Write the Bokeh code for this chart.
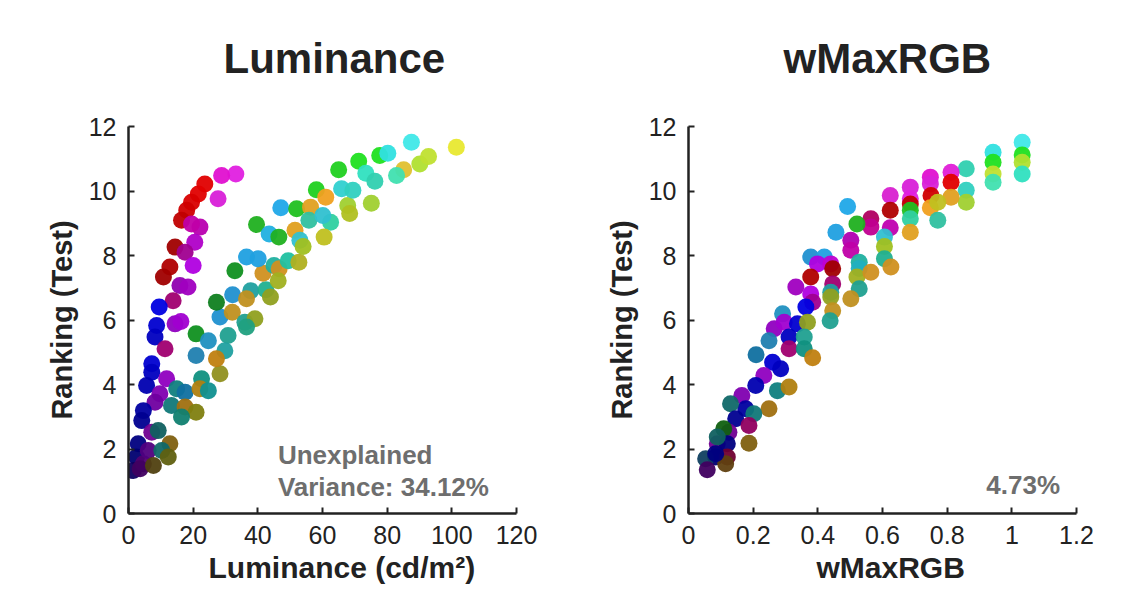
from bokeh.plotting import figure
from bokeh.layouts import row
from bokeh.models import Range1d, FixedTicker, Label, ColumnDataSource, Title
from bokeh.embed import file_html
from bokeh.resources import INLINE

# ---------------- Luminance panel data ----------------
lum_x = [33.2, 28.8, 27.7, 23.6, 21.6, 19.5, 18.0, 16.4, 22.1, 19.5, 20.5, 14.4, 17.5, 12.8, 10.8, 20.0,
         15.9, 18.4, 13.8, 9.5, 8.7, 8.2, 14.4, 16.2, 11.3, 7.2, 7.2, 5.6, 11.8, 9.7, 8.2, 4.6, 4.1, 7.2,
         3.0, 2.5, 1.5, 4.6, 3.6, 6.1,
         9.2, 12.8, 10.3, 12.3, 7.7, 14.9, 17.5, 13.3, 17.5, 20.9, 16.4, 22.6, 22.1, 24.7, 28.3, 20.9,
         24.7, 30.8, 29.8, 20.9, 27.2, 28.3, 32.1, 36.0, 39.1, 36.5, 27.2, 32.2, 37.8, 36.5, 42.5, 43.9,
         32.9, 41.6, 45.0, 46.6, 46.3, 49.4, 52.7, 36.5, 40.1, 39.6, 43.5, 46.5, 51.5, 53.0, 54.0, 47.1,
         52.0, 56.3, 55.8, 62.5, 60.1, 60.5, 58.1, 61.0, 67.8, 68.4, 75.1, 65.9, 69.4, 65.0, 71.2, 73.4,
         76.2, 85.1, 82.9, 77.7, 80.2, 90.1, 92.8, 87.5, 101.4]
lum_y = [10.53, 10.48, 9.76, 10.22, 9.91, 9.65, 9.40, 9.09, 8.88, 8.98, 8.41, 8.26, 8.10, 7.64, 7.33, 7.69,
         7.07, 7.02, 6.60, 6.40, 5.83, 5.47, 5.88, 5.95, 5.11, 4.64, 4.38, 3.97, 4.18, 3.71, 3.45, 3.19,
         2.88, 2.52, 2.16, 1.75, 1.33, 1.54, 1.39, 1.95,
         2.57, 2.16, 1.95, 1.75, 1.49, 3.87, 3.76, 3.35, 3.30, 3.14, 2.99, 4.18, 3.87, 3.81, 4.33, 5.57,
         5.36, 5.52, 5.05, 4.90, 4.80, 6.09, 6.24, 5.93, 6.04, 5.78, 6.55, 6.78, 6.91, 6.66, 6.94, 6.71,
         7.53, 7.45, 7.69, 7.59, 7.22, 7.84, 7.79, 7.95, 7.90, 8.96, 8.67, 8.57, 8.78, 8.47, 8.28, 9.48,
         9.45, 9.50, 9.09, 9.03, 9.24, 8.57, 10.04, 9.81, 9.55, 9.30, 9.62, 10.07, 10.02, 10.66, 10.92, 10.55,
         10.30, 10.66, 10.48, 11.10, 11.17, 10.84, 11.07, 11.51, 11.36]
lum_c = ["#e020e0", "#e010d0", "#d820d8", "#e00000", "#e00000", "#d80000", "#d00000", "#c00000", "#b800b0",
         "#c000a8", "#b000c8", "#a00000", "#a00090", "#b00000", "#a00000", "#b000e0", "#9000b0", "#a000c0",
         "#a00070", "#0000e0", "#0000d0", "#0000c0", "#9000c0", "#a000d0", "#a00070", "#0000d0", "#0000c0",
         "#0000b0", "#9000c0", "#8000b0", "#7000a0", "#0000a0", "#000090", "#700090", "#000080", "#000070",
         "#100060", "#500070", "#400060", "#500080",
         "#106060", "#806010", "#106868", "#606010", "#504010", "#108080", "#1070a0", "#107878", "#a07010",
         "#808010", "#108070", "#109080", "#b08010", "#109090", "#909020", "#109020", "#2090c0", "#20a090",
         "#20a0a0", "#2080b0", "#c08010", "#2090d0", "#c09020", "#20a090", "#90a020", "#20a080", "#108020",
         "#2090d0", "#20a0a0", "#c09020", "#20b090", "#90a020", "#109020", "#d09020", "#20b0a0", "#d09020",
         "#a0b020", "#20c0a0", "#b0b020", "#20a0e0", "#20a0e0", "#20b020", "#20b0e0", "#20b020", "#e0a020",
         "#30c0d0", "#a0c020", "#20a8e8", "#20c020", "#e0a020", "#30c0a0", "#30d0a0", "#30c0d0", "#c0c020",
         "#20d020", "#f0a020", "#a0d030", "#b0c020", "#a0d030", "#30d0d0", "#30d0c0", "#20d020", "#20e020",
         "#30e0c0", "#30d0b0", "#e0c030", "#40e0b0", "#20e020", "#30e0e0", "#b0e030", "#c0e030", "#40e8e8",
         "#e8e830"]

# ---------------- wMaxRGB panel data ----------------
wm_x = [1.032, 1.032, 1.032, 1.032, 0.942, 0.942, 0.942, 0.942, 0.859, 0.859, 0.859, 0.812, 0.812, 0.812,
        0.748, 0.748, 0.750, 0.748, 0.771, 0.771, 0.686, 0.686, 0.686, 0.686, 0.686, 0.686, 0.624, 0.624,
        0.624, 0.564, 0.564, 0.521, 0.606, 0.606, 0.606, 0.626, 0.492, 0.456, 0.502, 0.502, 0.528, 0.528,
        0.521, 0.528, 0.502, 0.564, 0.378, 0.420, 0.399, 0.440, 0.446, 0.378, 0.446, 0.332, 0.378, 0.384,
        0.363, 0.440, 0.440, 0.446, 0.438, 0.291, 0.265, 0.296, 0.337, 0.311, 0.368, 0.358, 0.311, 0.358,
        0.384, 0.249, 0.209, 0.260, 0.285, 0.233, 0.208, 0.275, 0.311, 0.165, 0.177, 0.249, 0.202, 0.130,
        0.146, 0.187, 0.125, 0.109, 0.187, 0.089, 0.120, 0.089, 0.084, 0.120, 0.115, 0.053, 0.058, 0.084]
wm_y = [11.51, 11.12, 10.89, 10.53, 11.20, 10.89, 10.53, 10.27, 10.69, 10.02, 9.65, 10.58, 10.27, 9.81,
        10.43, 10.22, 9.86, 9.48, 9.65, 9.09, 10.12, 9.76, 9.60, 9.40, 9.14, 8.72, 9.86, 9.40,
        8.86, 9.14, 8.88, 8.98, 8.57, 8.28, 7.90, 7.64, 9.52, 8.72, 8.47, 8.16, 7.79, 7.60,
        7.33, 6.97, 6.66, 7.48, 7.95, 7.95, 7.74, 7.74, 7.59, 7.33, 7.12, 7.02, 6.81, 6.55,
        6.40, 6.86, 6.71, 6.29, 5.98, 6.19, 5.73, 5.93, 5.88, 5.47, 5.93, 5.47, 5.11, 5.11,
        4.83, 5.36, 4.92, 4.69, 4.49, 4.28, 3.97, 3.81, 3.92, 3.66, 3.25, 3.25, 3.09, 3.40,
        2.94, 2.73, 2.52, 2.63, 2.18, 2.16, 2.16, 2.37, 1.75, 1.75, 1.54, 1.70, 1.36, 1.85]
wm_c = ["#40e8e8", "#20e020", "#b0e030", "#30e0c0", "#30e0e0", "#20e020", "#c0e030", "#40e0b0", "#30d0b0",
        "#30d0c0", "#a0d030", "#e020d8", "#e00000", "#e0a020", "#e010d0", "#d820d8", "#d00000", "#f0a020",
        "#c0c020", "#30c0a0", "#d820d8", "#e020e0", "#c00000", "#20c020", "#30d0a0", "#e0a020", "#d820d0",
        "#b00000", "#c000b0", "#b00060", "#c00090", "#20b020", "#30c0d0", "#a0c020", "#20b090", "#d09020",
        "#20a8e8", "#20a0e0", "#b000b0", "#c000a8", "#20b0a0", "#20b0c0", "#a0b020", "#20a090", "#c09020",
        "#d09020", "#2090d0", "#20a0e0", "#b000e0", "#c000d0", "#a00000", "#b00000", "#a00070", "#a000c0",
        "#b000e0", "#a00090", "#0000e0", "#20a0a0", "#90a020", "#c09020", "#20a090", "#2090c0", "#9000c0",
        "#a000d0", "#0000d0", "#0000c0", "#90a020", "#20a090", "#a00070", "#109080", "#c08010", "#2080b0",
        "#1070a0", "#0000d0", "#0000c0", "#9000c0", "#0000b0", "#108080", "#b08010", "#8000b0", "#0000a0",
        "#a07010", "#107878", "#106868", "#000090", "#900060", "#700090", "#106010", "#806010", "#700090",
        "#000080", "#106060", "#000070", "#700030", "#604010", "#104060", "#400060", "#000080"]

y_ticks = [0, 2, 4, 6, 8, 10, 12]
lum_ticks = [0, 20, 40, 60, 80, 100, 120]
wm_ticks = [0, 0.2, 0.4, 0.6, 0.8, 1.0, 1.2]
wm_tick_labels = ["0", "0.2", "0.4", "0.6", "0.8", "1", "1.2"]

FONT = "Liberation Sans"
DARK = "#222222"
GRAY = "#6e6e6e"
FRAME_W = 388
FRAME_H = 387
TOP = 126
HEIGHT = 598


def make_panel(title, xs, ys, cs, xmax, xticks, xlabels, xlabel, xlabel_offset, width, border_left):
    p = figure(width=width, height=HEIGHT, output_backend="svg", toolbar_location=None,
               x_range=Range1d(0, xmax), y_range=Range1d(0, 12),
               min_border_left=border_left, min_border_right=width - border_left - FRAME_W,
               min_border_top=TOP, min_border_bottom=HEIGHT - TOP - FRAME_H)
    p.outline_line_color = None
    p.grid.visible = False
    p.background_fill_color = "white"
    p.border_fill_color = "white"

    p.title.text = title
    p.title.text_font = FONT
    p.title.text_font_size = "42px"
    p.title.text_font_style = "bold"
    p.title.text_color = DARK
    p.title.align = "left"
    p.title.offset = 95
    p.title.standoff = 0

    # blank spacer panel between the frame and the title
    p.add_layout(Title(text=" ", text_font_size="1px", standoff=42), "above")

    src = ColumnDataSource(dict(x=xs, y=ys, c=cs))
    p.scatter("x", "y", source=src, size=17, fill_color="c", line_color=None, fill_alpha=0.95)

    for ax in (p.xaxis[0], p.yaxis[0]):
        ax.axis_line_width = 2.5
        ax.axis_line_color = DARK
        ax.major_tick_line_color = DARK
        ax.major_tick_line_width = 2
        ax.major_tick_in = 6
        ax.major_tick_out = 0
        ax.minor_tick_line_color = None
        ax.major_label_text_font = FONT
        ax.major_label_text_font_size = "25px"
        ax.major_label_text_color = DARK
        ax.axis_label_text_font = FONT
        ax.axis_label_text_font_size = "29px"
        ax.axis_label_text_font_style = "bold"
        ax.axis_label_text_color = DARK

    p.xaxis.ticker = FixedTicker(ticks=xticks)
    p.xaxis.major_label_overrides = {t: l for t, l in zip(xticks, xlabels)}
    p.xaxis.major_label_standoff = 12

    p.yaxis.ticker = FixedTicker(ticks=y_ticks)
    p.yaxis.major_label_overrides = {t: str(t) for t in y_ticks}
    p.yaxis.axis_label = "Ranking (Test)"
    p.yaxis.major_label_standoff = 12
    p.yaxis.axis_label_standoff = 8

    # x-axis title, placed below the axis and a little right of centre as in the original
    p.add_layout(Title(text=xlabel, align="left", offset=xlabel_offset, standoff=5,
                       text_font=FONT, text_font_size="30px", text_font_style="bold",
                       text_color=DARK), "below")
    return p


p1 = make_panel("Luminance", lum_x, lum_y, lum_c, 120, lum_ticks, [str(t) for t in lum_ticks],
                "Luminance (cd/m²)", 80, 568, 128)
for txt, yy in (("Unexplained", 1.80), ("Variance: 34.12%", 0.81)):
    p1.add_layout(Label(x=46.2, y=yy, text=txt, text_font=FONT, text_font_size="26px",
                        text_font_style="bold", text_color=GRAY, text_baseline="alphabetic"))

p2 = make_panel("wMaxRGB", wm_x, wm_y, wm_c, 1.2, wm_ticks, wm_tick_labels,
                "wMaxRGB", 128, 547, 120)
p2.add_layout(Label(x=0.921, y=0.89, text="4.73%", text_font=FONT, text_font_size="26px",
                    text_font_style="bold", text_color=GRAY, text_baseline="alphabetic"))

layout = row(p1, p2)
open("out.html", "w").write(file_html(layout, INLINE))
